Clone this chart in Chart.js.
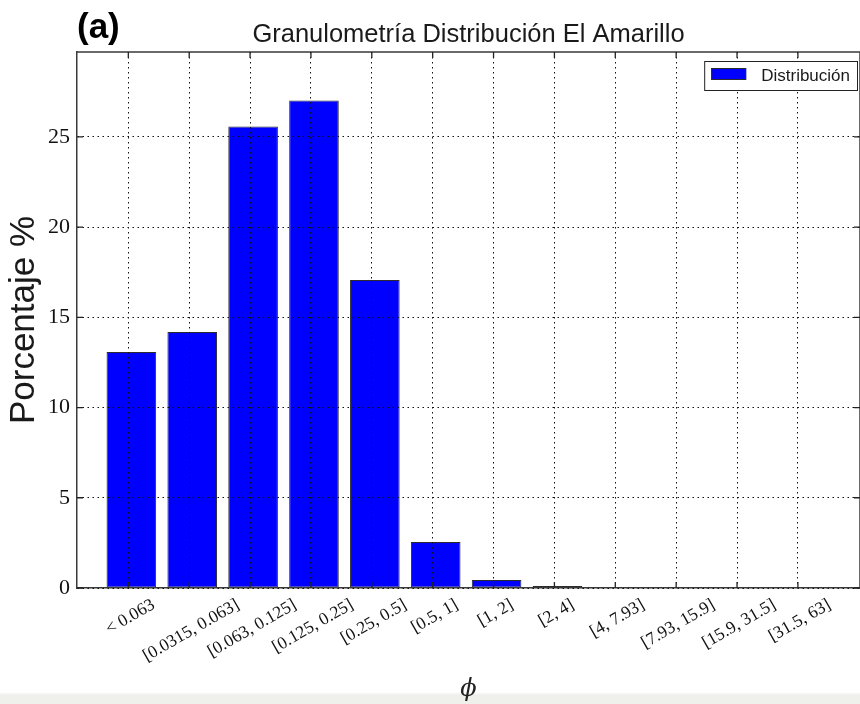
<!DOCTYPE html>
<html>
<head>
<meta charset="utf-8">
<script src="https://cdn.jsdelivr.net/npm/chart.js@4.4.1/dist/chart.umd.min.js"></script>
<style>
  html, body { margin: 0; padding: 0; }
  body { width: 860px; height: 704px; background: linear-gradient(to bottom, #ffffff 0px, #ffffff 692px, #efefec 695px); }
  canvas { display: block; }
</style>
</head>
<body>
<canvas id="granuloChart" width="860" height="704"></canvas>
<script>
var categories = ["< 0.063", "[0.0315, 0.063]", "[0.063, 0.125]", "[0.125, 0.25]", "[0.25, 0.5]",
    "[0.5, 1]", "[1, 2]", "[2, 4]", "[4, 7.93]", "[7.93, 15.9]", "[15.9, 31.5]", "[31.5, 63]"];
var porcentaje = [13.07, 14.19, 25.57, 27.01, 17.07, 2.55, 0.44, 0.11, 0.03, 0, 0, 0];
var yTicks = [0, 5, 10, 15, 20, 25];
var barShift = 0.05;   // bars sit a little right of the tick, as in the original

// frame, inner tick marks, titles, legend and rotated x labels
var extrasPlugin = {
    id: "extras",
    afterDraw: function (chart) {
        var ctx = chart.ctx;
        var a = chart.chartArea;
        var xs = chart.scales.x;
        var ys = chart.scales.y;
        ctx.save();

        ctx.strokeStyle = "#3a3a3a";
        ctx.lineWidth = 1.5;
        ctx.beginPath();
        ctx.moveTo(a.left, a.top);
        ctx.lineTo(a.right, a.top);
        ctx.lineTo(a.right, a.bottom);
        ctx.stroke();

        ctx.strokeStyle = "#222";
        ctx.lineWidth = 1.3;
        ctx.beginPath();
        xs.ticks.forEach(function (t) {
            var px = xs.getPixelForValue(t.value);
            ctx.moveTo(px, a.top); ctx.lineTo(px, a.top + 6);
            ctx.moveTo(px, a.bottom); ctx.lineTo(px, a.bottom - 6);
        });
        ys.ticks.forEach(function (t) {
            var py = ys.getPixelForValue(t.value);
            ctx.moveTo(a.left, py); ctx.lineTo(a.left + 6, py);
            ctx.moveTo(a.right, py); ctx.lineTo(a.right - 6, py);
        });
        ctx.stroke();

        // panel tag and title
        ctx.fillStyle = "#000";
        ctx.textAlign = "left";
        ctx.textBaseline = "alphabetic";
        ctx.font = "bold 35px 'Liberation Sans'";
        ctx.fillText("(a)", a.left, 38);
        ctx.fillStyle = "#1a1a1a";
        ctx.textAlign = "center";
        ctx.font = "25.5px 'Liberation Sans'";
        ctx.fillText("Granulometría Distribución El Amarillo", (a.left + a.right) / 2, a.top - 10);

        // legend box
        var ds = chart.data.datasets[0];
        ctx.font = "17px 'Liberation Sans'";
        var tw = ctx.measureText(ds.label).width;
        var boxRight = a.right - 2;
        var boxW = 7 + 35 + 15 + tw + 8;
        var boxLeft = boxRight - boxW;
        var boxTop = a.top + 9;
        ctx.fillStyle = "#fff";
        ctx.fillRect(boxLeft, boxTop, boxW, 30);
        ctx.strokeStyle = "#222";
        ctx.lineWidth = 1;
        ctx.strokeRect(boxLeft + 0.5, boxTop + 0.5, boxW - 1, 29);
        ctx.fillStyle = ds.backgroundColor;
        ctx.fillRect(boxLeft + 7, boxTop + 7, 35, 12);
        ctx.strokeStyle = ds.borderColor;
        ctx.strokeRect(boxLeft + 7.5, boxTop + 7.5, 34, 11);
        ctx.fillStyle = "#1a1a1a";
        ctx.textAlign = "left";
        ctx.textBaseline = "middle";
        ctx.fillText(ds.label, boxLeft + 57, boxTop + 15);

        // rotated category labels, box-centred under each tick
        var ang = 30 * Math.PI / 180;
        ctx.font = "17.5px 'Liberation Serif'";
        ctx.fillStyle = "#111";
        ctx.textAlign = "center";
        ctx.textBaseline = "middle";
        categories.forEach(function (lab, i) {
            var px = xs.getPixelForValue(i);
            var w = ctx.measureText(lab).width;
            var h = 13;
            var bh = w * Math.sin(ang) + h * Math.cos(ang);
            ctx.save();
            ctx.translate(px + 2, a.bottom + 10 + bh / 2);
            ctx.rotate(-ang);
            ctx.fillText(lab, 0, 0);
            ctx.restore();
        });

        ctx.restore();
    }
};

var ctx = document.getElementById("granuloChart").getContext("2d");

var myChart = new Chart(ctx, {
    type: "bar",
    data: {
        datasets: [{
            label: "Distribución",
            data: porcentaje.map(function (v, i) { return { x: i + barShift, y: v }; }),
            backgroundColor: "#0000ff",
            borderColor: "#2b2b2b",
            borderWidth: 1,
            borderSkipped: false,
            barPercentage: 0.815,
            categoryPercentage: 1
        }]
    },
    options: {
        responsive: false,
        animation: false,
        layout: { padding: { left: 0, right: 0, top: 52, bottom: 0 } },
        plugins: {
            legend: { display: false },
            tooltip: { enabled: false }
        },
        scales: {
            x: {
                type: "linear",
                offset: false,
                min: -0.843,
                max: 12.02,
                afterBuildTicks: function (scale) {
                    scale.ticks = categories.map(function (c, i) { return { value: i }; });
                },
                afterFit: function (scale) { scale.height = 116; },
                ticks: { display: false },
                grid: { offset: false, color: "#111", lineWidth: 1, drawTicks: false, z: 1 },
                border: { display: true, color: "#3a3a3a", width: 1.5, dash: [1.5, 3.5], z: 1 },
                title: {
                    display: true,
                    text: "ϕ",
                    color: "#222",
                    font: { family: "DejaVu Serif", style: "italic", size: 24 },
                    padding: { top: 0, bottom: 0 }
                }
            },
            y: {
                min: 0,
                max: 29.7,
                afterBuildTicks: function (scale) {
                    scale.ticks = yTicks.map(function (v) { return { value: v }; });
                },
                afterFit: function (scale) { scale.width = 77; },
                ticks: {
                    color: "#111",
                    padding: 7,
                    font: { family: "Liberation Serif", size: 22 }
                },
                grid: { color: "#111", lineWidth: 1, drawTicks: false, z: 1 },
                border: { display: true, color: "#3a3a3a", width: 1.5, dash: [1.5, 3.5], z: 1 },
                title: {
                    display: true,
                    text: "Porcentaje %",
                    color: "#1a1a1a",
                    font: { family: "Liberation Sans", size: 35 },
                    padding: { top: 3, bottom: 0 }
                }
            }
        }
    },
    plugins: [extrasPlugin]
});
</script>
</body>
</html>
